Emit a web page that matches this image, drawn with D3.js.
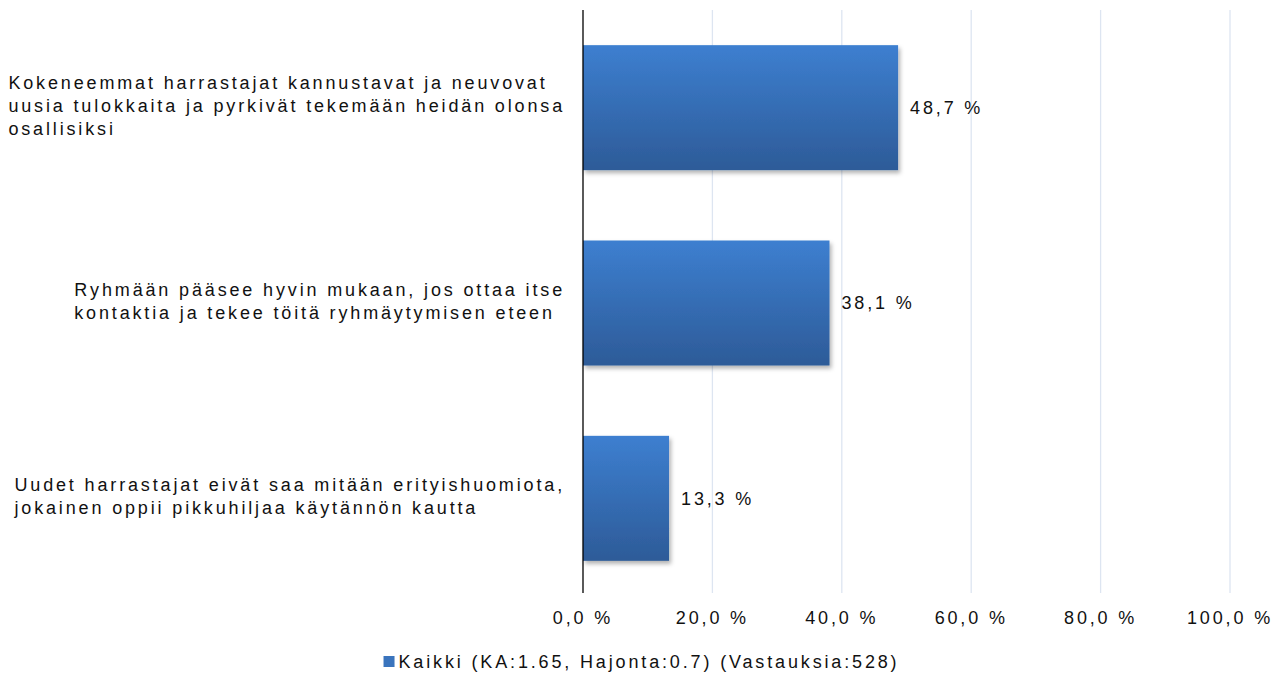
<!DOCTYPE html>
<html>
<head>
<meta charset="utf-8">
<script src="https://cdn.jsdelivr.net/npm/d3@7"></script>
<style>
  body { margin: 0; background: #fff; }
  text { font-family: "Liberation Sans", Arial, sans-serif; fill: #111; }
</style>
</head>
<body>
<div id="chart"></div>
<script>
// Horizontal bar chart - share of answers per statement

const categories = [
    ["Kokeneemmat harrastajat kannustavat ja neuvovat", "uusia tulokkaita ja pyrkivät tekemään heidän olonsa", "osallisiksi"],
    ["Ryhmään pääsee hyvin mukaan, jos ottaa itse", "kontaktia ja tekee töitä ryhmäytymisen eteen"],
    ["Uudet harrastajat eivät saa mitään erityishuomiota,", "jokainen oppii pikkuhiljaa käytännön kautta"]
];
const values = [48.7, 38.1, 13.3];
const ticks = [0, 20, 40, 60, 80, 100];
const seriesName = "Kaikki (KA:1.65, Hajonta:0.7) (Vastauksia:528)";

const W = 1282, H = 675;
const margin = { top: 10, right: 52, bottom: 82, left: 583 };
const width = W - margin.left - margin.right;
const height = H - margin.top - margin.bottom;
const fontSize = 18;
const spacing = "2.85px";

const svg = d3.select("#chart").append("svg")
    .attr("width", W)
    .attr("height", H);

const defs = svg.append("defs");
const grad = defs.append("linearGradient")
    .attr("id", "barGrad")
    .attr("x1", 0).attr("y1", 0).attr("x2", 0).attr("y2", 1);
grad.append("stop").attr("offset", "0%").attr("stop-color", "#3d7fd0");
grad.append("stop").attr("offset", "100%").attr("stop-color", "#2d5b98");

const shadow = defs.append("filter")
    .attr("id", "shadow")
    .attr("x", "-10%").attr("y", "-10%")
    .attr("width", "130%").attr("height", "130%");
shadow.append("feDropShadow")
    .attr("dx", 2).attr("dy", 3)
    .attr("stdDeviation", 2)
    .attr("flood-color", "#000")
    .attr("flood-opacity", 0.3);

const g = svg.append("g")
    .attr("transform", `translate(${margin.left}, ${margin.top})`);

const x = d3.scaleLinear().domain([0, 100]).range([0, width]);
const y = d3.scaleBand()
    .domain(d3.range(categories.length))
    .range([0, height + 3])
    .paddingInner(0.36)
    .paddingOuter(0.18);

// gridlines
g.selectAll(".grid")
    .data(ticks.slice(1))
    .enter()
    .append("line")
    .attr("x1", d => x(d))
    .attr("x2", d => x(d))
    .attr("y1", 0)
    .attr("y2", height)
    .attr("stroke", "#dde5f1")
    .attr("stroke-width", 1.3);

// bars
g.selectAll(".bar")
    .data(values)
    .enter()
    .append("rect")
    .attr("x", x(0))
    .attr("y", (d, i) => y(i))
    .attr("width", d => x(d) - x(0))
    .attr("height", y.bandwidth())
    .attr("fill", "url(#barGrad)")
    .attr("filter", "url(#shadow)");

// value labels
g.selectAll(".val")
    .data(values)
    .enter()
    .append("text")
    .attr("x", d => x(d) + 12)
    .attr("y", (d, i) => y(i) + y.bandwidth() / 2)
    .attr("dy", "0.35em")
    .attr("font-size", fontSize)
    .style("letter-spacing", spacing)
    .text(d => d.toFixed(1).replace(".", ",") + " %");

// value axis line
g.append("line")
    .attr("x1", x(0)).attr("x2", x(0))
    .attr("y1", 0).attr("y2", height)
    .attr("stroke", "#000")
    .attr("stroke-width", 1.3);

// tick labels
g.selectAll(".tick")
    .data(ticks)
    .enter()
    .append("text")
    .attr("x", d => x(d))
    .attr("y", height + 31)
    .attr("text-anchor", "middle")
    .attr("font-size", fontSize)
    .style("letter-spacing", spacing)
    .text(d => d.toFixed(1).replace(".", ",") + " %");

// category labels: lines left-aligned, block right-aligned at x=563
const lineH = 23;
categories.forEach((lines, i) => {
    const block = svg.append("g");
    const texts = lines.map((ln, k) => block.append("text")
        .attr("y", margin.top + y(i) + y.bandwidth() / 2 + (k - (lines.length - 1) / 2) * lineH - 2)
        .attr("dy", "0.35em")
        .attr("font-size", fontSize)
        .style("letter-spacing", spacing)
        .text(ln));
    const maxW = d3.max(texts, t => t.node().getComputedTextLength());
    texts.forEach(t => t.attr("x", 565 - maxW));
});

// legend
const legend = svg.append("g");
const legText = legend.append("text")
    .attr("y", 662)
    .attr("dy", "0.35em")
    .attr("font-size", fontSize)
    .style("letter-spacing", spacing)
    .text(seriesName);
const lw = legText.node().getComputedTextLength();
const lx = (W - lw - 14) / 2;
legend.append("rect")
    .attr("x", lx)
    .attr("y", 656)
    .attr("width", 11)
    .attr("height", 11)
    .attr("fill", "#3a74bd");
legText.attr("x", lx + 15);
</script>
</body>
</html>
